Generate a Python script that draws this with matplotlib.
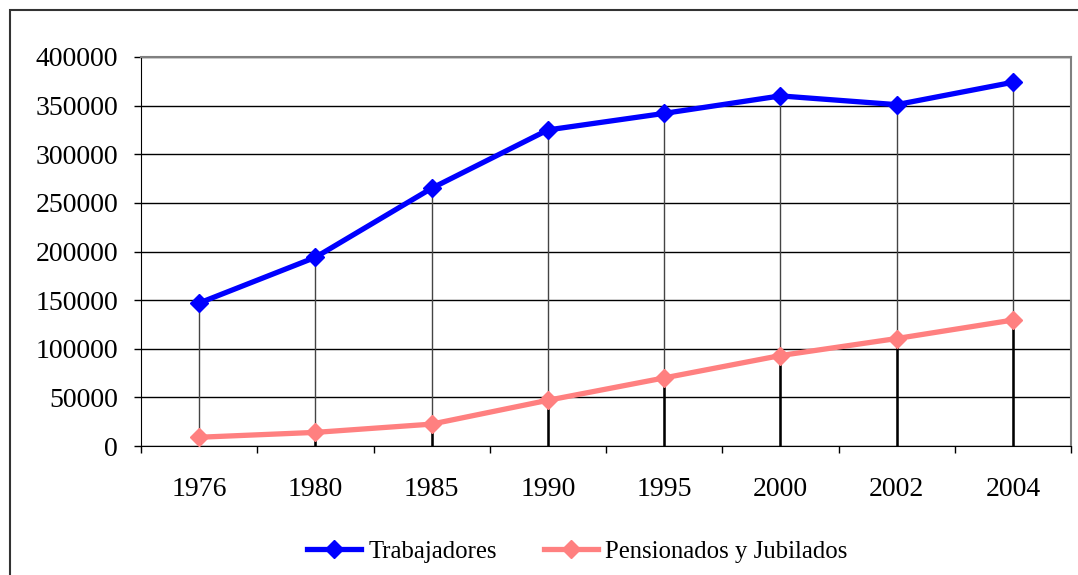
import matplotlib.pyplot as plt
import matplotlib.patches as patches
import numpy as np

years = ["1976", "1980", "1985", "1990", "1995", "2000", "2002", "2004"]
trabajadores = [147000, 194000, 265000, 325000, 342000, 360000, 351000, 374000]
pensionados = [9000, 14000, 22500, 47000, 70000, 93000, 110500, 129500]

plt.rcParams['font.family'] = ['Liberation Serif', 'DejaVu Serif']

fig = plt.figure(figsize=(10.78, 5.75), dpi=100)
ax = fig.add_axes([141/1078, 1 - 446/575, (1071 - 141)/1078, (446 - 57)/575])

x = np.arange(len(years))

# drop lines from each point down to the axis
ax.vlines(x, 0, trabajadores, colors='#444444', linewidth=1.0, zorder=2)
ax.vlines(x, 0, pensionados, colors='black', linewidth=1.8, zorder=2)

ax.plot(x, trabajadores, color='#0000ff', linewidth=3.8, marker='D',
        markersize=9.5, label='Trabajadores', zorder=4)
ax.plot(x, pensionados, color='#ff8080', linewidth=3.8, marker='D',
        markersize=9.5, label='Pensionados y Jubilados', zorder=4)

ax.set_xlim(-0.5, len(years) - 0.5)
ax.set_ylim(0, 400000)
ax.set_yticks(np.arange(0, 400001, 50000))
ax.yaxis.grid(True, color='black', linewidth=1.0)
ax.set_axisbelow(True)

ax.set_xticks(x)
ax.set_xticklabels(years)
ax.set_xticks(np.arange(-0.5, len(years), 1), minor=True)
ax.tick_params(axis='x', which='major', length=0, pad=22, labelsize=20)
ax.tick_params(axis='x', which='minor', length=5, width=1, direction='out')
ax.tick_params(axis='y', length=5, width=1, labelsize=20, pad=11.5)

for s in ['top', 'right']:
    ax.spines[s].set_color('#808080')
    ax.spines[s].set_linewidth(1.5)
ax.spines['left'].set_color('black')
ax.spines['bottom'].set_color('black')

ax.legend(loc='center', bbox_to_anchor=(577/1078, 1 - 552/575),
          bbox_transform=fig.transFigure, ncol=2, frameon=False,
          fontsize=17.8, handlelength=2.2, columnspacing=1.9, handletextpad=0.28)

# outer chart border (extends past the bottom/right edge)
fig.patches.append(patches.Rectangle((10/1078, -0.1), 1.2, 1 - 10/575 + 0.1,
                                     transform=fig.transFigure, fill=False,
                                     edgecolor='#333333', linewidth=1.5))

fig.savefig('out.png', dpi=100)
